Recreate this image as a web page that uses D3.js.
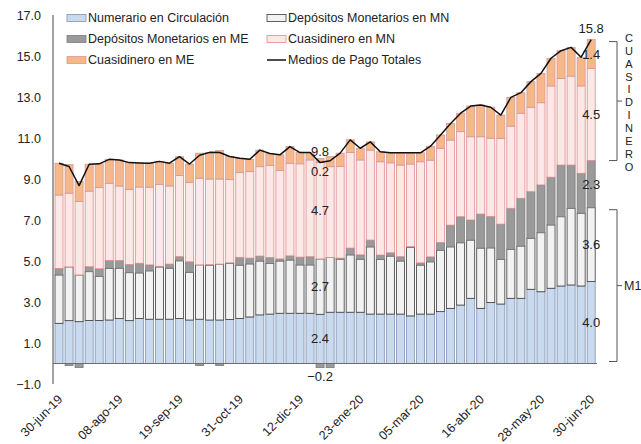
<!DOCTYPE html>
<html>
<head>
<meta charset="utf-8">
<script src="https://cdn.jsdelivr.net/npm/d3@7"></script>
<style>
  body { margin: 0; background: #fff; }
  svg { display: block; }
  text { font-family: "Liberation Sans", Arial, sans-serif; fill: #222; }
</style>
</head>
<body>
<svg id="chart" width="641" height="444"></svg>
<script>
// Weekly observations, 30-jun-19 .. 30-jun-20
const categories = [
  "30-jun-19","04-jul-19","11-jul-19","18-jul-19","25-jul-19","01-ago-19","08-ago-19","15-ago-19",
  "22-ago-19","29-ago-19","05-sep-19","12-sep-19","19-sep-19","26-sep-19","03-oct-19","10-oct-19",
  "17-oct-19","24-oct-19","31-oct-19","07-nov-19","14-nov-19","21-nov-19","28-nov-19","05-dic-19",
  "12-dic-19","19-dic-19","31-dic-19","02-ene-20","09-ene-20","16-ene-20","23-ene-20","30-ene-20",
  "06-feb-20","13-feb-20","20-feb-20","27-feb-20","05-mar-20","12-mar-20","19-mar-20","26-mar-20",
  "02-abr-20","09-abr-20","16-abr-20","23-abr-20","30-abr-20","07-may-20","14-may-20","21-may-20",
  "28-may-20","04-jun-20","11-jun-20","18-jun-20","25-jun-20","30-jun-20"
];
const tickLabels = ["30-jun-19","08-ago-19","19-sep-19","31-oct-19","12-dic-19",
  "23-ene-20","05-mar-20","16-abr-20","28-may-20","30-jun-20"];
const yTicks = [-1, 1, 3, 5, 7, 9, 11, 13, 15, 17];

// Contributions by component
const numerario = [1.96,2.09,2.04,2.10,2.10,2.12,2.19,2.09,2.20,2.16,2.16,2.16,2.20,2.12,2.16,2.12,
  2.12,2.15,2.20,2.27,2.37,2.41,2.45,2.45,2.45,2.45,2.40,2.50,2.50,2.50,2.50,2.41,2.41,2.41,2.41,2.32,
  2.41,2.41,2.53,2.69,2.85,3.18,2.69,2.97,2.90,3.18,3.18,3.62,3.50,3.67,3.78,3.83,3.78,4.00];
const depMonMN = [2.36,2.62,2.28,2.38,2.15,2.52,2.46,2.34,2.22,2.36,2.55,2.49,2.81,2.33,2.65,2.68,
  2.73,2.74,2.60,2.59,2.63,2.47,2.55,2.60,2.36,2.36,2.70,2.67,2.59,2.80,2.59,3.28,2.67,2.83,2.59,3.35,
  2.39,2.55,2.98,3.00,3.04,2.84,2.94,2.67,2.18,2.39,2.55,2.49,2.88,3.09,3.38,3.74,3.55,3.60];
const depMonME = [0.32,-0.10,-0.20,0.24,0.37,0.38,0.37,0.40,0.47,0.29,0.03,0.20,0.20,0.51,-0.10,0.02,
  -0.10,0.02,0.38,0.28,0.24,0.29,0.10,0.20,0.38,0.40,-0.20,-0.20,0.05,0.33,0.21,0.33,0.21,0.16,0.21,0.03,
  0.11,0.24,0.39,1.06,1.27,0.98,1.66,1.53,1.72,2.00,2.33,2.27,2.33,2.33,2.52,2.11,1.95,2.30];
const cuasiMN = [3.58,3.60,3.58,3.69,3.97,3.77,3.64,3.67,3.72,3.79,3.99,3.81,3.96,3.88,4.23,4.18,
  4.15,4.07,4.13,4.22,4.36,4.50,4.31,4.52,4.55,4.72,4.70,4.43,4.47,4.66,4.63,4.39,4.55,4.39,4.47,4.03,
  4.93,4.72,4.60,4.15,4.15,4.06,3.77,3.82,4.18,4.01,4.15,4.12,4.01,4.45,4.23,4.34,4.26,4.50];
const cuasiME = [1.55,1.40,0.98,1.31,1.15,1.17,1.27,1.30,1.17,1.17,1.13,1.11,0.92,0.89,1.22,1.30,
  1.39,1.12,0.70,0.60,0.81,0.57,0.77,0.81,0.55,0.36,0.20,0.49,0.65,0.62,0.57,0.40,0.49,0.49,0.60,0.55,
  0.44,0.68,0.65,0.81,0.90,1.50,1.55,1.51,1.14,1.40,1.00,1.25,1.43,1.35,1.35,1.40,1.40,1.40];
const mediosTotales = [9.77,9.61,8.68,9.72,9.74,9.96,9.93,9.80,9.78,9.77,9.86,9.77,10.09,9.73,10.16,10.30,
  10.29,10.10,10.01,9.96,10.41,10.24,10.18,10.58,10.29,10.29,9.80,9.89,10.26,10.91,10.50,10.81,10.33,10.28,
  10.28,10.28,10.28,10.60,11.15,11.71,12.21,12.56,12.61,12.50,12.12,12.98,13.21,13.75,14.15,14.89,15.26,
  15.42,14.94,15.80];

// Bars whose component values are printed
const labelledBars = [26, 53];

const series = [
  { key: "num",  name: "Numerario en Circulación",   values: numerario, fill: "#c9d9ee", stroke: "#7f93b3" },
  { key: "dmn",  name: "Depósitos Monetarios en MN", values: depMonMN,  fill: "#f2f2f2", stroke: "#3a3a3a" },
  { key: "dme",  name: "Depósitos Monetarios en ME", values: depMonME,  fill: "#9a9a9a", stroke: "#7c7c7c" },
  { key: "cmn",  name: "Cuasidinero en MN",          values: cuasiMN,   fill: "#fde8e8", stroke: "#e08c8c" },
  { key: "cme",  name: "Cuasidinero en ME",          values: cuasiME,   fill: "#f6b888", stroke: "#d59a9a" }
];

const svg = d3.select("#chart");

const x = d3.scaleBand().domain(categories).range([54, 596.2]).paddingInner(0.2).paddingOuter(0.1);
const y = d3.scaleLinear().domain([-1, 17]).range([384, 15]);

const rows = categories.map((c, i) => {
  const r = { cat: c };
  series.forEach(s => { r[s.key] = s.values[i]; });
  return r;
});

const stacked = d3.stack()
  .keys(series.map(s => s.key))
  .order(d3.stackOrderNone)
  .offset(d3.stackOffsetDiverging)(rows);

// Stacked bars
const gBars = svg.append("g");
stacked.forEach((layer, li) => {
  const s = series[li];
  gBars.append("g")
    .selectAll("rect")
    .data(layer.filter(d => Math.abs(d[1] - d[0]) > 1e-9))
    .join("rect")
    .attr("x", d => x(d.data.cat))
    .attr("width", x.bandwidth())
    .attr("y", d => y(Math.max(d[0], d[1])))
    .attr("height", d => Math.abs(y(d[0]) - y(d[1])))
    .attr("fill", s.fill)
    .attr("stroke", s.stroke)
    .attr("stroke-width", 0.8);
});

// Axes
svg.append("line").attr("x1", 53).attr("x2", 53).attr("y1", y(17)).attr("y2", y(-1))
  .attr("stroke", "#444").attr("stroke-width", 1);
svg.append("line").attr("x1", 53).attr("x2", 597).attr("y1", y(0)).attr("y2", y(0))
  .attr("stroke", "#6d6d6d").attr("stroke-width", 1);

const yAxis = d3.axisLeft(y).tickValues(yTicks).tickFormat(d3.format(".1f")).tickSize(0).tickPadding(0);
const gy = svg.append("g").attr("transform", "translate(41,0)").call(yAxis);
gy.select(".domain").remove();
gy.selectAll("text").attr("font-size", "12.5px").attr("fill", "#222")
  .style("font-family", "'Liberation Sans', Arial, sans-serif");

const xAxis = d3.axisBottom(x).tickValues(tickLabels).tickSize(0).tickPadding(0);
const gx = svg.append("g").attr("transform", "translate(0,397)").call(xAxis);
gx.select(".domain").remove();
gx.selectAll("text")
  .attr("font-size", "12.5px").attr("fill", "#222")
  .style("font-family", "'Liberation Sans', Arial, sans-serif")
  .attr("text-anchor", "end")
  .attr("dy", "0.35em")
  .attr("transform", "translate(1,0) rotate(-45)");

// Total line
const line = d3.line()
  .x((d, i) => x(categories[i]) + x.bandwidth() / 2)
  .y(d => y(d));
svg.append("path").datum(mediosTotales)
  .attr("d", line).attr("fill", "none").attr("stroke", "#111").attr("stroke-width", 1.5)
  .attr("stroke-linejoin", "round");

// Value labels on selected bars
const fmt = d3.format(".1f");
const gLab = svg.append("g").attr("font-size", "13px").attr("text-anchor", "middle");
labelledBars.forEach(i => {
  const cx = x(categories[i]) + x.bandwidth() / 2;
  stacked.forEach((layer, li) => {
    const d = layer[i];
    const top = y(Math.max(d[0], d[1])), bot = y(Math.min(d[0], d[1]));
    const v = series[li].values[i];
    const ly = (bot - top) < 12 ? bot + 9 : (top + bot) / 2;
    gLab.append("text").attr("x", cx).attr("y", ly).attr("dy", "0.35em").text(fmt(v));
  });
  gLab.append("text").attr("x", cx).attr("y", y(mediosTotales[i]) - 11).attr("dy", "0.35em")
    .text(fmt(mediosTotales[i]));
});

// Brackets for the last observation
const last = categories.length - 1;
const cuasiTop = y(mediosTotales[last]);
const cuasiBot = y(numerario[last] + depMonMN[last] + depMonME[last]);
const m1Top = y(numerario[last] + depMonMN[last]);
const m1Bot = y(0);
function bracket(y0, y1) {
  const mid = (y0 + y1) / 2;
  svg.append("path")
    .attr("d", `M609,${y0}H617V${y1}H609M617,${mid}H622`)
    .attr("fill", "none").attr("stroke", "#555").attr("stroke-width", 1);
  return mid;
}
bracket(cuasiTop + 2, cuasiBot);
const m1Mid = bracket(m1Top + 2, m1Bot - 2);

const cuasiWord = "CUASIDINERO".split("");
svg.append("g").attr("font-size", "11px").attr("text-anchor", "middle")
  .selectAll("text").data(cuasiWord).join("text")
  .attr("x", 629).attr("y", (d, i) => 38 + i * 12.9).attr("dy", "0.35em").text(d => d);
svg.append("text").attr("x", 624).attr("y", m1Mid).attr("dy", "0.35em")
  .attr("font-size", "12.5px").text("M1");

// Legend
const legendItems = [
  { s: series[0], col: 0, row: 0 },
  { s: series[1], col: 1, row: 0 },
  { s: series[2], col: 0, row: 1 },
  { s: series[3], col: 1, row: 1 },
  { s: series[4], col: 0, row: 2 },
  { s: null, name: "Medios de Pago Totales", col: 1, row: 2 }
];
const colX = [67, 267], rowY = [18, 39, 60];
const gLeg = svg.append("g").attr("font-size", "12.5px");
legendItems.forEach(it => {
  const lx = colX[it.col], ly = rowY[it.row];
  if (it.s) {
    gLeg.append("rect").attr("x", lx).attr("y", ly - 3.5).attr("width", 19).attr("height", 7)
      .attr("fill", it.s.fill).attr("stroke", it.s.stroke).attr("stroke-width", 0.8);
  } else {
    gLeg.append("line").attr("x1", lx).attr("x2", lx + 19).attr("y1", ly).attr("y2", ly)
      .attr("stroke", "#111").attr("stroke-width", 1.5);
  }
  gLeg.append("text").attr("x", lx + 21).attr("y", ly).attr("dy", "0.35em")
    .text(it.s ? it.s.name : it.name);
});
</script>
</body>
</html>
